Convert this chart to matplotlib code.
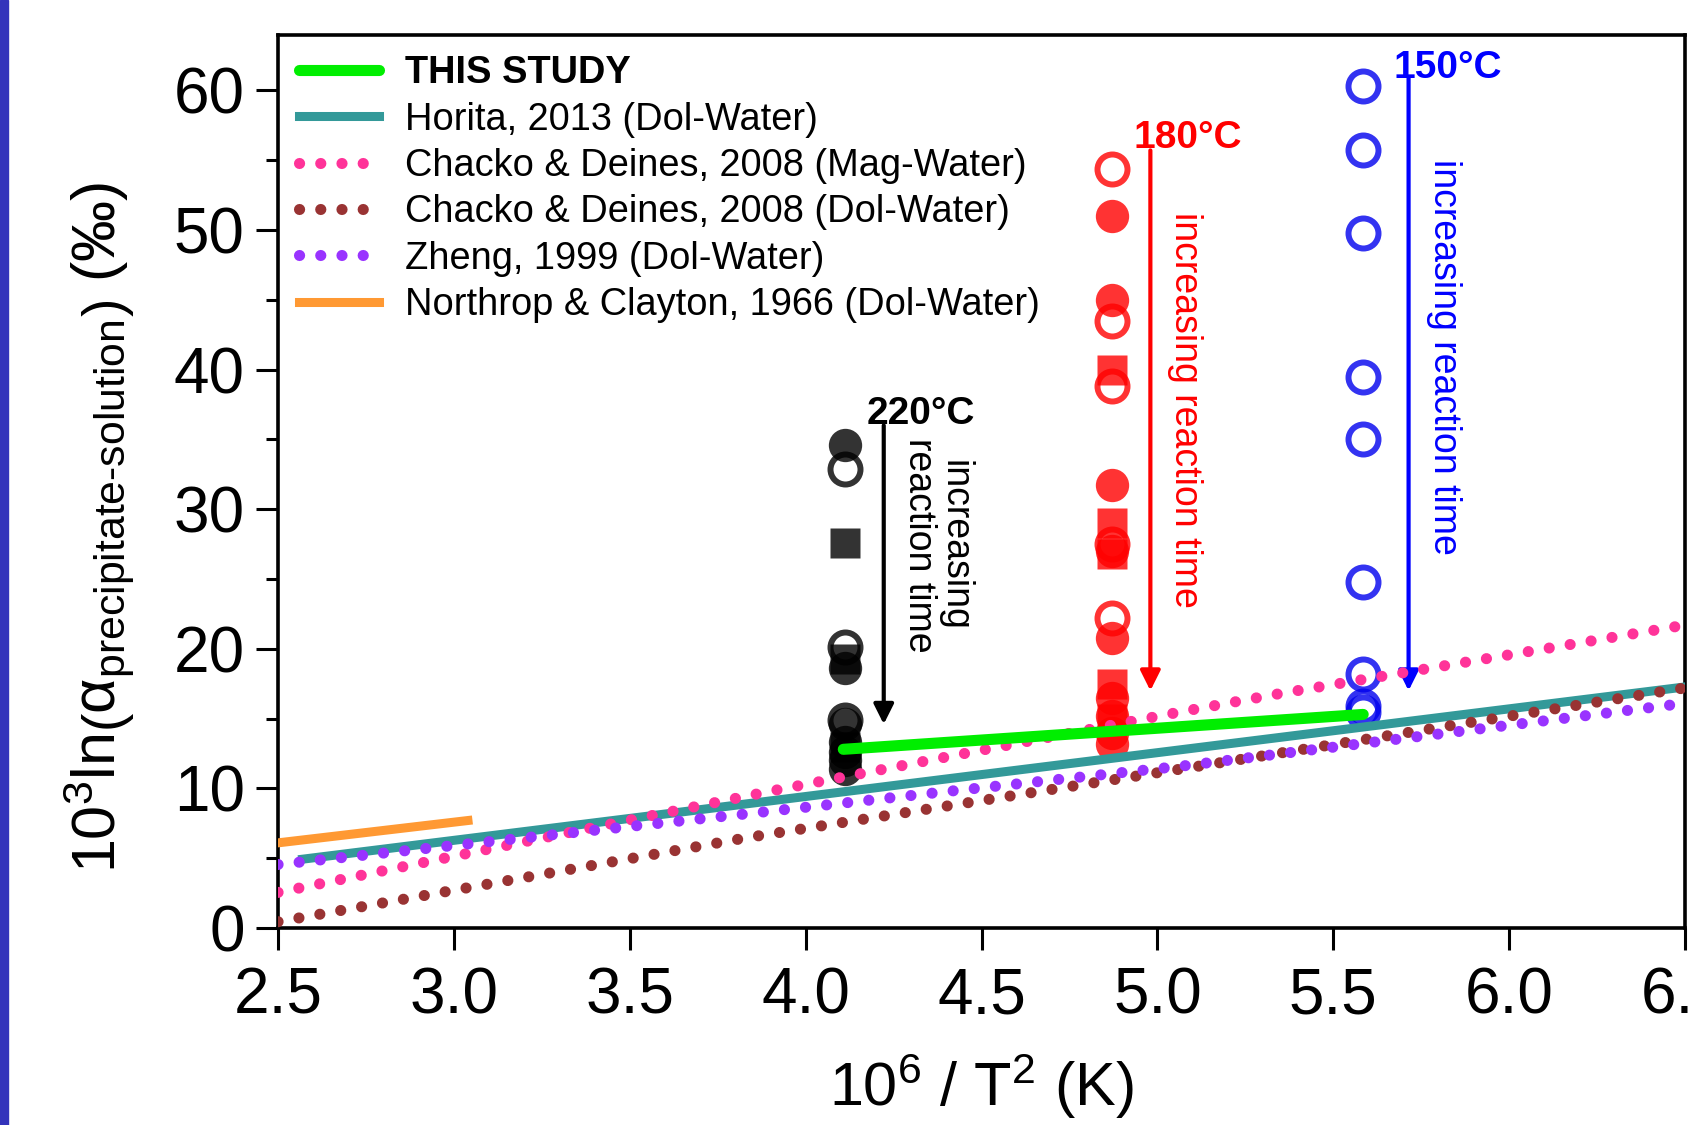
import matplotlib.pyplot as plt
from matplotlib.ticker import MultipleLocator

plt.rcParams['font.family'] = ['Liberation Sans', 'DejaVu Sans']
plt.rcParams['mathtext.fontset'] = 'custom'
plt.rcParams['mathtext.rm'] = 'Liberation Sans'
plt.rcParams['mathtext.it'] = 'Liberation Sans'
plt.rcParams['mathtext.bf'] = 'Liberation Sans:bold'


# 10^6/T^2 for an experiment temperature in degC
def inv_t2(tc):
    return 1e6 / (tc + 273.15) ** 2


temp_220 = 220
black_filled = [34.6, 18.6, 14.6, 13.3, 12.6, 12.0, 11.4]
black_open = [32.9, 20.1, 14.9]
black_square = [27.6, 19.3, 13.0]

temp_180 = 180
red_filled = [51.0, 45.0, 31.7, 27.0, 20.8, 16.5, 15.2, 14.0, 13.2]
red_open = [54.4, 43.5, 38.8, 27.5, 22.2]
red_square = [40.0, 29.0, 26.8, 17.5, 15.0]

temp_150 = 150
blue_open = [60.3, 55.7, 49.8, 39.5, 35.0, 24.8, 18.2, 15.9, 15.5]

# calibration lines
study_x = [4.107, 5.585]
study_y = [12.8, 15.3]
horita_x = [2.57, 6.5]
horita_y = [4.93, 17.27]
cd_mag_x = [2.5, 3.9, 4.39, 5.07, 5.35, 6.5]
cd_mag_y = [2.55, 9.8, 12.2, 15.5, 16.8, 21.7]
cd_dol_x = [2.5, 3.84, 5.07, 6.5]
cd_dol_y = [0.45, 6.5, 11.4, 17.2]
zheng_x = [2.5, 3.84, 4.41, 5.07, 6.5]
zheng_y = [4.55, 8.2, 9.8, 11.6, 16.1]
nc_x = [2.5, 3.04]
nc_y = [6.1, 7.7]

fig = plt.figure(figsize=(16.92, 11.25), dpi=100)
ax = fig.add_axes([0.1643, 0.1751, 0.8316, 0.7942])

# left slide border
fig.add_artist(plt.Rectangle((0, 0), 8 / 1692, 1, transform=fig.transFigure,
                             color='#3333bb', zorder=10))

# data points
def pts(temp, vals, marker, color, filled, size):
    x = [inv_t2(temp)] * len(vals)
    if filled:
        ax.plot(x, vals, ls='none', marker=marker, ms=size, color=color,
                mec='none', alpha=0.8, zorder=3)
    else:
        ax.plot(x, vals, ls='none', marker=marker, ms=size, mfc='none',
                mec=color, mew=4.3, alpha=0.8, zorder=3)


pts(temp_220, black_filled, 'o', 'black', True, 24)
pts(temp_220, black_square, 's', 'black', True, 21.6)
pts(temp_220, black_open, 'o', 'black', False, 21.6)
pts(temp_180, red_filled, 'o', '#ff0000', True, 24)
pts(temp_180, red_square, 's', '#ff0000', True, 21.6)
pts(temp_180, red_open, 'o', '#ff0000', False, 21.6)
pts(temp_150, blue_open, 'o', '#0000ee', False, 21.6)

dots = (0, (0.01, 1.9))
ax.plot(study_x, study_y, color='#00ee00', lw=8, solid_capstyle='round',
        label='THIS STUDY', zorder=6)
ax.plot(horita_x, horita_y, color='#339999', lw=6.5, label='Horita, 2013 (Dol-Water)', zorder=4)
ax.plot(cd_mag_x, cd_mag_y, color='#ff3399', lw=8, ls=dots, dash_capstyle='round',
        label='Chacko & Deines, 2008 (Mag-Water)', zorder=4)
ax.plot(cd_dol_x, cd_dol_y, color='#993333', lw=8, ls=dots, dash_capstyle='round',
        label='Chacko & Deines, 2008 (Dol-Water)', zorder=4)
ax.plot(zheng_x, zheng_y, color='#9933ff', lw=8, ls=dots, dash_capstyle='round',
        label='Zheng, 1999 (Dol-Water)', zorder=4)
ax.plot(nc_x, nc_y, color='#ff9933', lw=6.5,
        label='Northrop & Clayton, 1966 (Dol-Water)', zorder=4)

leg = ax.legend(loc='upper left', bbox_to_anchor=(0.0, 1.0), frameon=False,
                fontsize=27.4, handlelength=2.1, handletextpad=0.7,
                labelspacing=0.27, borderaxespad=0.15)
leg.get_texts()[0].set_fontweight('bold')

# annotations
arrow_kw = dict(arrowstyle='-|>,head_width=0.3,head_length=0.6', lw=3,
                shrinkA=0, shrinkB=0, mutation_scale=20)
ax.annotate('', xy=(4.222, 14.6), xytext=(4.222, 36.0),
            arrowprops=dict(color='black', **arrow_kw))
ax.annotate('', xy=(4.980, 17.0), xytext=(4.980, 55.7),
            arrowprops=dict(color='#ff0000', **arrow_kw))
ax.annotate('', xy=(5.714, 17.0), xytext=(5.714, 60.9),
            arrowprops=dict(color='#0000ff', **arrow_kw))

ax.text(4.328, 36.8, '220°C', color='black', fontsize=28, fontweight='bold',
        ha='center', va='center')
ax.text(5.087, 56.6, '180°C', color='#ff0000', fontsize=28, fontweight='bold',
        ha='center', va='center')
ax.text(5.825, 61.6, '150°C', color='#0000ff', fontsize=28, fontweight='bold',
        ha='center', va='center')
ax.text(4.373, 27.4, 'increasing\nreaction time', color='black', fontsize=27,
        rotation=270, ha='center', va='center', linespacing=1.0)
ax.text(5.079, 37.1, 'increasing reaction time', color='#ff0000', fontsize=27,
        rotation=270, ha='center', va='center')
ax.text(5.815, 40.9, 'increasing reaction time', color='#0000ff', fontsize=27,
        rotation=270, ha='center', va='center')

ax.set_xlim(2.5, 6.5)
ax.set_ylim(0, 64)
ax.xaxis.set_major_locator(MultipleLocator(0.5))
ax.yaxis.set_major_locator(MultipleLocator(10))
ax.yaxis.set_minor_locator(MultipleLocator(5))
ax.tick_params(which='major', length=16, width=2.2, labelsize=46, pad=8)
ax.tick_params(which='minor', length=9, width=2.2)
ax.tick_params(axis='x', which='major', pad=12)
for s in ax.spines.values():
    s.set_linewidth(2.6)

ax.set_xlabel(r'$10^6$ / T$^2$ (K)', fontsize=44, labelpad=18)
ax.set_ylabel(r'$10^3\mathrm{ln}\left(\alpha_{\mathrm{precipitate\text{-}solution}}\right)$ (‰)',
              fontsize=44)
ax.yaxis.set_label_coords(-0.10, 0.448)

fig.savefig('out.png', dpi=100)
